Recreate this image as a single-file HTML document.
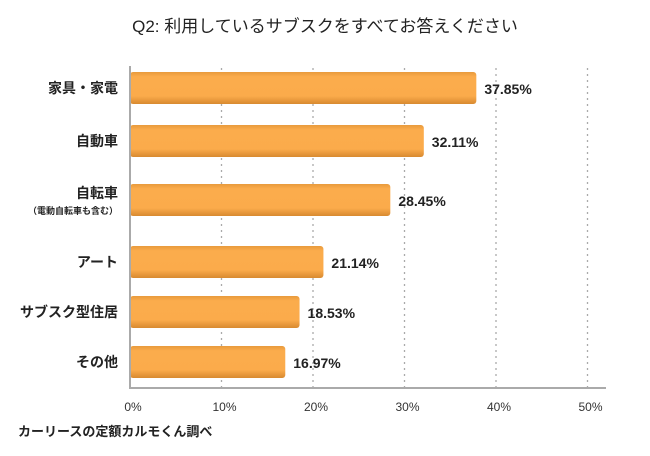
<!DOCTYPE html>
<html><head><meta charset="utf-8"><style>
body{margin:0;background:#fff;font-family:"Liberation Sans","Noto Sans CJK JP",sans-serif;}
svg text{font-family:"Liberation Sans","Noto Sans CJK JP",sans-serif;}
</style></head><body>
<svg id="c" width="650" height="451">
<defs><linearGradient id="g" x1="0" y1="0" x2="0" y2="1">
<stop offset="0" stop-color="#e89a3c"/><stop offset="0.15" stop-color="#fbac4c"/><stop offset="0.75" stop-color="#fbab4b"/><stop offset="1" stop-color="#d88a30"/></linearGradient></defs>
<text x="325" y="32" text-anchor="middle" font-size="17" fill="#222">Q2: 利用しているサブスクをすべてお答えください</text>
<text x="18" y="436" font-size="13" font-weight="bold" fill="#222">カーリースの定額カルモくん調べ</text>
</svg>
<script>
const categories=["家具・家電","自動車","自転車","アート","サブスク型住居","その他"];
const values=[37.85,32.11,28.45,21.14,18.53,16.97];
const ticks=[0,10,20,30,40,50];
const centers=[88,141,200,262,312,362];
const svg=document.getElementById('c');const NS='http://www.w3.org/2000/svg';
const x=v=>130+v*9.15;
function el(t,a,txt){const e=document.createElementNS(NS,t);for(const k in a)e.setAttribute(k,a[k]);if(txt!==undefined)e.textContent=txt;svg.appendChild(e);return e;}
ticks.forEach(t=>{
 if(t>0){const l=el('line',{x1:x(t),x2:x(t),y1:68,y2:388,stroke:'#aaa','stroke-width':1.3,'stroke-dasharray':'2,4'});
 
 }
 const tx=el('text',{x:x(t)+3,y:411,'text-anchor':'middle','font-size':12,fill:'#333'},t+'%');
 
 
});
values.forEach((v,i)=>{
 const cy=centers[i];
 const r=el('rect',{x:x(0),y:cy-16,width:x(v)-x(0),height:32,rx:3,fill:'url(#g)'});
 
 
 const lb=el('text',{x:x(v)+8,y:cy+6,'font-size':14,'font-weight':'bold',fill:'#222'},v.toFixed(2)+'%');
 
 
 const c=el('text',{x:118,y:i==2?cy-2:cy+5,'text-anchor':'end','font-size':14,'font-weight':'bold',fill:'#222'},categories[i]);
 
 
});
const sub=el('text',{x:118,y:214,'text-anchor':'end','font-size':9,'font-weight':'bold',fill:'#222'},'（電動自転車も含む）');


const ya=el('line',{x1:130,x2:130,y1:66,y2:389,stroke:'#aaa','stroke-width':2});


const xa=el('line',{x1:129,x2:606,y1:388,y2:388,stroke:'#aaa','stroke-width':2});


</script>
</body></html>
